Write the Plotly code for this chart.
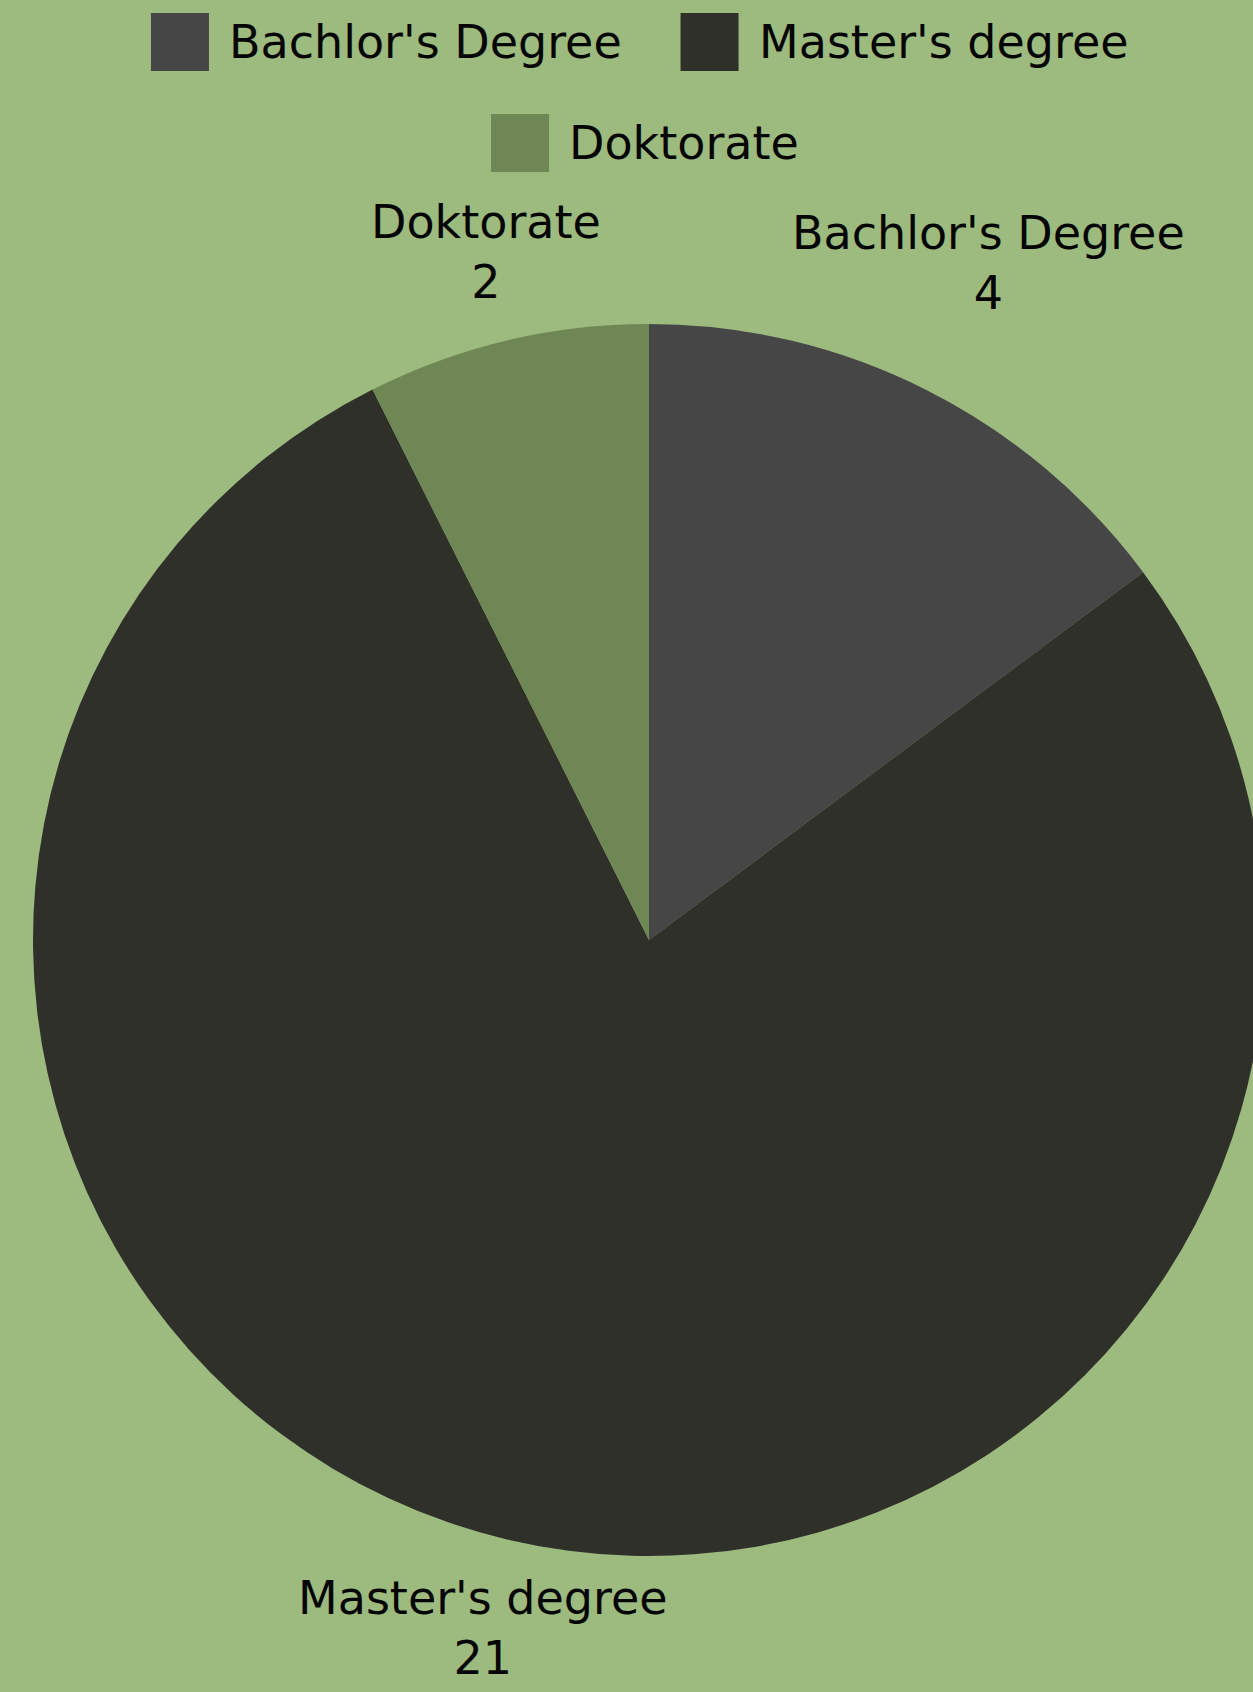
import math
import plotly.graph_objects as go

# ---- data ----
labels = ["Bachlor's Degree", "Master's degree", "Doktorate"]
values = [4, 21, 2]
colors = ["#464646", "#30302b", "#6f8755"]

# ---- layout constants ----
# figure is slightly wider than the 1253px window so the pie is clipped on the right like the reference
W, H = 1265, 1692
ML, MR, MT, MB = 33, 0, 324, 136
PW, PH = W - ML - MR, H - MT - MB
FONT = "DejaVu Sans"
FS = 46
CHAR_W = 25.1                # rough width estimate per character
LINE_H = 1.3 * FS
BG = "#9dba7f"


def px2paper(x, y):
    return (x - ML) / PW, 1 - (y - MT) / PH


fig = go.Figure(
    go.Pie(
        labels=labels,
        values=values,
        marker=dict(colors=colors, line=dict(width=0)),
        sort=False,
        direction="clockwise",
        rotation=0,
        textinfo="none",
        hoverinfo="label+value",
        showlegend=False,
    )
)

# ---- outside labels, placed from the slice angles ----
cx, cy = ML + PW / 2, MT + PH / 2
r = min(PW, PH) / 2
total = sum(values)
cum = 0
annotations = []
for lab, v in zip(labels, values):
    mid = (cum + v / 2) / total * 2 * math.pi
    cum += v
    ux, uy = math.sin(mid), -math.cos(mid)
    w = len(lab) * 23.3
    dist = r + 70 + 0.85 * abs(ux) * w / 2
    lx, ly = cx + dist * ux, cy + dist * uy
    ly = min(ly, H - LINE_H - 4)          # keep the label inside the canvas
    xp, yp = px2paper(lx, ly)
    annotations.append(dict(
        x=xp, y=yp, xref="paper", yref="paper",
        text=f"{lab}<br>{v}", showarrow=False,
        xanchor="center", yanchor="middle", align="center",
        font=dict(family=FONT, size=FS, color="#050505"),
    ))

# ---- custom legend (big squares) ----
SQ = 58
GAP = 18
ITEM_GAP = 52
ROW_CENTER_X = 642
rows = [[0, 1], [2]]
row_y = [42, 143]
shapes = []
for row, yc in zip(rows, row_y):
    widths = [SQ + GAP + len(labels[i]) * CHAR_W for i in row]
    tot = sum(widths) + ITEM_GAP * (len(row) - 1)
    x = ROW_CENTER_X - tot / 2
    for i, wd in zip(row, widths):
        x0, y0 = px2paper(x, yc - SQ / 2)
        x1, y1 = px2paper(x + SQ, yc + SQ / 2)
        shapes.append(dict(type="rect", xref="paper", yref="paper",
                           x0=x0, y0=y0, x1=x1, y1=y1,
                           fillcolor=colors[i], line=dict(width=0)))
        tx, ty = px2paper(x + SQ + GAP, yc)
        annotations.append(dict(
            x=tx, y=ty, xref="paper", yref="paper", text=labels[i],
            showarrow=False, xanchor="left", yanchor="middle",
            font=dict(family=FONT, size=FS, color="#050505"),
        ))
        x += wd + ITEM_GAP

fig.update_layout(
    width=W, height=H,
    margin=dict(l=ML, r=MR, t=MT, b=MB, pad=0),
    paper_bgcolor=BG, plot_bgcolor=BG,
    annotations=annotations, shapes=shapes,
    showlegend=False,
)

fig.write_html(
    "out.html",
    config={"displayModeBar": False},
    post_script=(
        "document.body.style.margin='0';"
        "document.body.style.overflow='hidden';"
        "document.documentElement.style.overflow='hidden';"
        f"document.documentElement.style.background='{BG}';"
    ),
)
